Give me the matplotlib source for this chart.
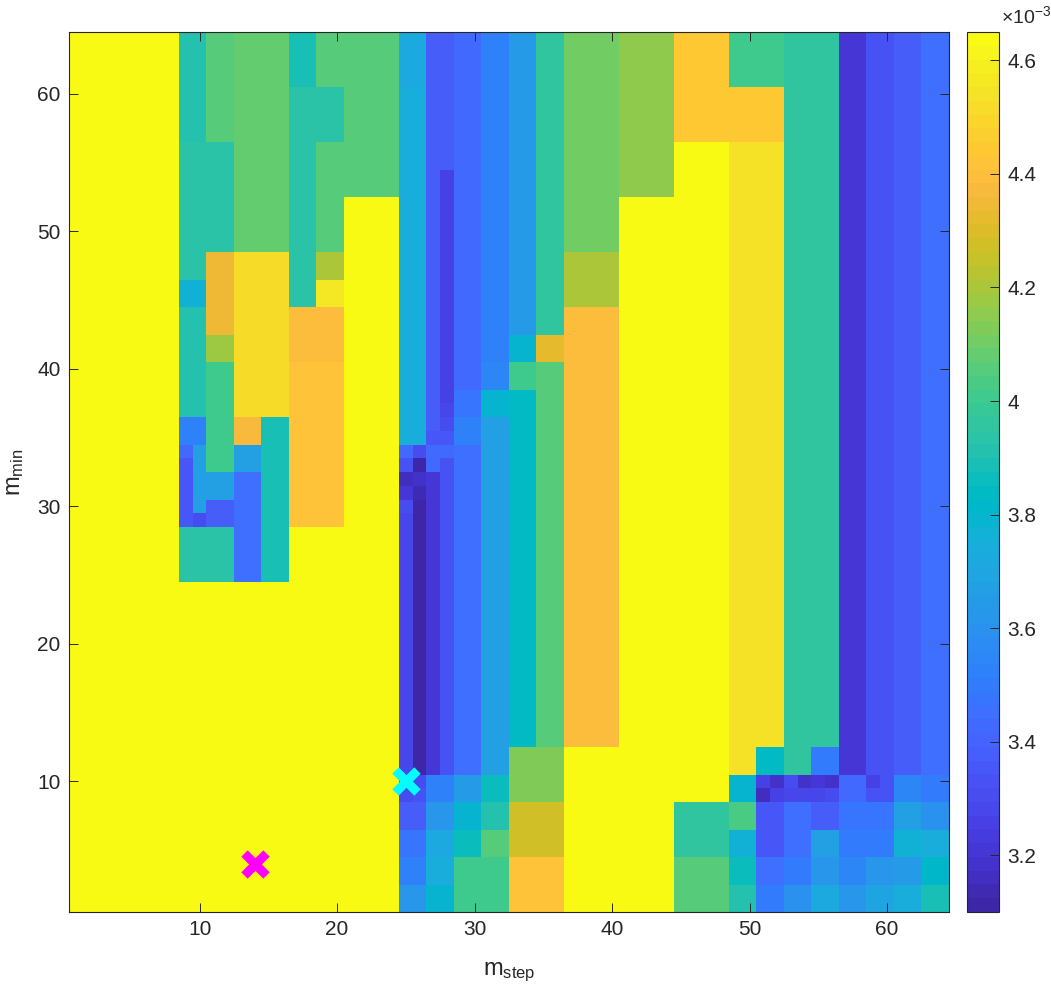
import matplotlib as mpl
mpl.use('Agg')
import matplotlib.pyplot as plt
from matplotlib.colors import ListedColormap
import numpy as np

plt.rcParams['font.family'] = ['Liberation Sans', 'DejaVu Sans']
plt.rcParams['mathtext.fontset'] = 'custom'
plt.rcParams['mathtext.rm'] = 'Liberation Sans'
plt.rcParams['mathtext.default'] = 'regular'

parula = [
    [0.2422,0.1504,0.6603],[0.2504,0.1650,0.7076],[0.2578,0.1818,0.7511],[0.2647,0.1978,0.7952],
    [0.2706,0.2147,0.8364],[0.2751,0.2342,0.8710],[0.2783,0.2559,0.8991],[0.2803,0.2782,0.9221],
    [0.2813,0.3006,0.9414],[0.2810,0.3228,0.9579],[0.2795,0.3447,0.9717],[0.2760,0.3667,0.9829],
    [0.2699,0.3892,0.9906],[0.2602,0.4123,0.9952],[0.2440,0.4358,0.9988],[0.2206,0.4603,0.9973],
    [0.1963,0.4847,0.9892],[0.1834,0.5074,0.9798],[0.1786,0.5289,0.9682],[0.1764,0.5499,0.9520],
    [0.1687,0.5703,0.9359],[0.1540,0.5902,0.9218],[0.1460,0.6091,0.9079],[0.1380,0.6276,0.8973],
    [0.1248,0.6459,0.8883],[0.1113,0.6635,0.8763],[0.0952,0.6798,0.8598],[0.0689,0.6948,0.8394],
    [0.0297,0.7082,0.8163],[0.0036,0.7203,0.7917],[0.0067,0.7312,0.7660],[0.0433,0.7411,0.7394],
    [0.0964,0.7500,0.7120],[0.1408,0.7584,0.6842],[0.1717,0.7670,0.6554],[0.1938,0.7758,0.6251],
    [0.2161,0.7843,0.5923],[0.2470,0.7918,0.5567],[0.2906,0.7973,0.5188],[0.3406,0.8008,0.4789],
    [0.3909,0.8029,0.4354],[0.4456,0.8024,0.3909],[0.5044,0.7993,0.3480],[0.5616,0.7942,0.3045],
    [0.6174,0.7876,0.2612],[0.6720,0.7793,0.2227],[0.7242,0.7698,0.1910],[0.7738,0.7598,0.1646],
    [0.8203,0.7498,0.1535],[0.8634,0.7406,0.1596],[0.9035,0.7330,0.1774],[0.9393,0.7288,0.2100],
    [0.9728,0.7298,0.2394],[0.9956,0.7434,0.2371],[0.9970,0.7659,0.2199],[0.9952,0.7861,0.1990],
    [0.9892,0.8137,0.1885],[0.9786,0.8386,0.1766],[0.9676,0.8639,0.1643],[0.9610,0.8890,0.1537],
    [0.9597,0.9135,0.1423],[0.9628,0.9373,0.1265],[0.9691,0.9606,0.1064],[0.9769,0.9839,0.0805],
]

# each column: m_step range, then (number of m_min rows, value x 1e3) from m_min=64 down
s01_08 = [(64,4.65)]
s09 = [(8,3.911),(10,3.935),(2,3.766),(8,3.911),(2,3.524),(1,3.427),(5,3.354),(4,3.935),(24,4.65)]
s10 = [(8,3.911),(10,3.935),(2,3.766),(8,3.911),(2,3.524),(5,3.669),(1,3.306),(4,3.935),(24,4.65)]
s11_12 = [(8,4.056),(8,3.935),(6,4.346),(2,4.177),(8,4.008),(2,3.669),(2,3.378),(4,3.935),(24,4.65)]
s13_14 = [(16,4.080),(12,4.516),(2,4.370),(2,3.669),(8,3.451),(24,4.65)]
s15_16 = [(16,4.080),(12,4.516),(12,3.887),(24,4.65)]
s17_18 = [(4,3.887),(16,3.935),(4,4.395),(12,4.419),(28,4.65)]
s19_20 = [(4,4.056),(4,3.935),(8,4.056),(2,4.201),(2,4.564),(4,4.395),(12,4.419),(28,4.65)]
s21_24 = [(12,4.056),(52,4.65)]
s25 = [(4,3.717),(26,3.742),(1,3.427),(1,3.330),(1,3.170),(1,3.209),(1,3.306),(19,3.282),(2,3.306),(2,3.378),(2,3.475),(2,3.524),(2,3.630)]
s26 = [(4,3.717),(26,3.742),(1,3.306),(1,3.112),(1,3.185),(1,3.136),(20,3.112),(1,3.306),(1,3.330),(2,3.378),(2,3.475),(2,3.524),(2,3.630)]
s27 = [(29,3.378),(1,3.354),(1,3.415),(1,3.427),(22,3.209),(2,3.524),(2,3.621),(2,3.717),(2,3.742),(2,3.790)]
s28 = [(10,3.378),(17,3.257),(1,3.282),(1,3.306),(1,3.354),(1,3.415),(23,3.330),(2,3.524),(2,3.621),(2,3.717),(2,3.742),(2,3.790)]
s29_30 = [(26,3.427),(2,3.475),(2,3.524),(24,3.451),(2,3.645),(2,3.790),(2,3.863),(4,4.008)]
s31_32 = [(24,3.512),(2,3.548),(2,3.790),(26,3.669),(2,3.863),(2,3.911),(2,4.056),(4,4.008)]
s33_34 = [(22,3.645),(2,3.790),(2,4.008),(26,3.838),(4,4.129),(4,4.274),(4,4.419)]
s35_36 = [(22,3.959),(2,4.322),(28,4.056),(4,4.129),(4,4.274),(4,4.419)]
s37_40 = [(16,4.105),(4,4.201),(32,4.395),(12,4.65)]
s41_44 = [(12,4.153),(52,4.65)]
s45_48 = [(8,4.455),(48,4.65),(4,3.959),(4,4.056)]
s49_50 = [(4,4.008),(4,4.455),(46,4.540),(2,3.790),(2,4.032),(2,3.766),(2,3.863),(2,3.911)]
s51 = [(4,4.008),(4,4.455),(44,4.540),(2,3.838),(1,3.257),(1,3.150),(4,3.354),(2,3.451),(2,3.500)]
s52 = [(4,4.008),(4,4.455),(44,4.540),(2,3.838),(1,3.185),(1,3.257),(4,3.354),(2,3.451),(2,3.500)]
s53 = [(54,3.959),(1,3.306),(1,3.282),(4,3.451),(2,3.500),(2,3.596)]
s54 = [(54,3.959),(1,3.185),(1,3.282),(4,3.451),(2,3.500),(2,3.596)]
s55 = [(52,3.959),(2,3.500),(1,3.209),(1,3.282),(2,3.378),(2,3.669),(2,3.621),(2,3.717)]
s56 = [(52,3.959),(2,3.500),(1,3.185),(1,3.306),(2,3.378),(2,3.669),(2,3.621),(2,3.717)]
s57_58 = [(54,3.209),(2,3.427),(2,3.475),(2,3.500),(2,3.548),(2,3.621)]
s59 = [(54,3.318),(1,3.257),(1,3.318),(2,3.475),(2,3.500),(2,3.621),(2,3.693)]
s60 = [(54,3.330),(2,3.318),(2,3.475),(2,3.500),(2,3.621),(2,3.693)]
s61_62 = [(54,3.378),(2,3.548),(2,3.669),(2,3.766),(2,3.645),(2,3.742)]
s63_64 = [(54,3.451),(2,3.500),(2,3.596),(2,3.742),(2,3.814),(2,3.887)]

columns = [(1,8,s01_08),(9,9,s09),(10,10,s10),(11,12,s11_12),(13,14,s13_14),(15,16,s15_16),
           (17,18,s17_18),(19,20,s19_20),(21,24,s21_24),(25,25,s25),(26,26,s26),(27,27,s27),
           (28,28,s28),(29,30,s29_30),(31,32,s31_32),(33,34,s33_34),(35,36,s35_36),(37,40,s37_40),
           (41,44,s41_44),(45,48,s45_48),(49,50,s49_50),(51,51,s51),(52,52,s52),(53,53,s53),
           (54,54,s54),(55,55,s55),(56,56,s56),(57,58,s57_58),(59,59,s59),(60,60,s60),
           (61,62,s61_62),(63,64,s63_64)]

best_step, best_min = [14], [4]
other_step, other_min = [25], [10]
ticks = [10, 20, 30, 40, 50, 60]
cbar_ticks = [3.2, 3.4, 3.6, 3.8, 4.0, 4.2, 4.4, 4.6]
cbar_labels = ['3.2', '3.4', '3.6', '3.8', '4', '4.2', '4.4', '4.6']

Z = np.zeros((64, 64))
for first, last, runs in columns:
    col = np.concatenate([np.full(n, v) for n, v in runs])[::-1]
    Z[:, first-1:last] = col[:, None]

W, H = 1051, 990
dark = '#262626'
fig = plt.figure(figsize=(W/100, H/100), dpi=100)
ax = fig.add_axes([69/W, 1-912/H, 880/W, 880/H])
im = ax.imshow(Z, origin='lower', extent=(0.5, 64.5, 0.5, 64.5), aspect='auto',
               cmap=ListedColormap(parula), vmin=3.1, vmax=4.65, interpolation='nearest')
ax.plot(best_step, best_min, 'x', color='#ff00ff', ms=16, mew=6.5)
ax.plot(other_step, other_min, 'x', color='#00ffff', ms=16, mew=6.5)

ax.set_xticks(ticks)
ax.set_yticks(ticks)
ax.tick_params(direction='in', length=6.5, width=0.7, color=dark, labelcolor=dark,
               labelsize=15, top=True, right=True, pad=6)
for s in ax.spines.values():
    s.set_color(dark)
    s.set_linewidth(0.8)
ax.set_xlabel(r'$m_{step}$', fontsize=17, color=dark, labelpad=15)
ax.set_ylabel(r'$m_{min}$', fontsize=17, color=dark, labelpad=8)

cax = fig.add_axes([967/W, 1-912/H, 32/W, 880/H])
cb = fig.colorbar(im, cax=cax)
cb.set_ticks(cbar_ticks)
cb.set_ticklabels(cbar_labels)
cb.ax.tick_params(direction='in', length=6.5, width=0.7, color=dark, labelcolor=dark,
                  labelsize=15, pad=6)
cb.outline.set_edgecolor(dark)
cb.outline.set_linewidth(0.8)
fig.text(1001/W, 1-23/H, r'$\times 10^{-3}$', fontsize=14, color=dark, ha='left', va='baseline')

fig.savefig('out.png', dpi=100)
